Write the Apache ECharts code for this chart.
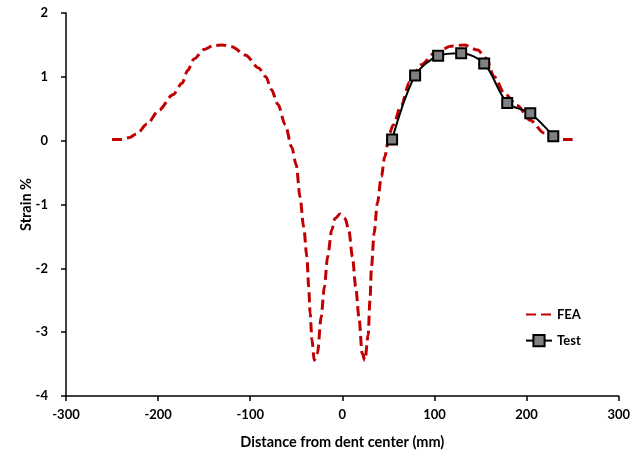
<!DOCTYPE html>
<html>
<head>
<meta charset="utf-8">
<script src="https://cdn.jsdelivr.net/npm/echarts@6/dist/echarts.min.js"></script>
<style>html,body{margin:0;padding:0;background:#fff}#c{width:633px;height:459px}</style>
</head>
<body>
<div id="c"></div>
<script>
const feaX = [-250,-240,-231,-223,-212,-199,-184,-174,-168,-161,-150,-140,-130,-120,-105,-91,-83,-77,-70,-62,-55,-50,-46,-42,-38.5,-36.5,-35,-33,-30.5,-27,-23,-19.5,-16,-11.5,-8,-2.5,3,7,11,14.5,18,21.5,24.5,28,30,31.6,34.5,38,42.4,46,51.4,55,64,73,85.6,100,118,132,147,156,165,176,190,204,219,230,240,250];
const feaY = [0.02,0.02,0.05,0.11,0.26,0.48,0.72,0.90,1.10,1.28,1.43,1.49,1.50,1.47,1.34,1.14,1.00,0.80,0.57,0.25,-0.10,-0.38,-0.88,-1.35,-1.82,-2.29,-2.70,-3.12,-3.44,-3.33,-2.76,-2.29,-1.82,-1.40,-1.22,-1.15,-1.22,-1.40,-1.82,-2.29,-2.76,-3.33,-3.44,-3.05,-2.50,-1.98,-1.45,-0.98,-0.56,-0.25,0.12,0.24,0.56,0.92,1.19,1.37,1.48,1.50,1.42,1.29,1.00,0.74,0.55,0.32,0.12,0.04,0.02,0.02];
const testX = [54,79,104,129,154,179,204,229];
const testY = [0.02,1.02,1.33,1.37,1.21,0.59,0.43,0.07];
const xTicks = [-300,-200,-100,0,100,200,300];
const yTicks = [-4,-3,-2,-1,0,1,2];

const font = 'Lato, "Open Sans", sans-serif';
const chart = echarts.init(document.getElementById('c'));
chart.setOption({
  animation: false,
  backgroundColor: '#fff',
  grid: {left: 66, right: 13, top: 13, bottom: 63},
  legend: {
    orient: 'vertical', left: 520, top: 303, itemWidth: 26, itemHeight: 14, itemGap: 13,
    textStyle: {fontFamily: font, fontWeight: 'bold', fontSize: 13, color: '#000'},
    data: [{name: 'FEA', itemStyle: {opacity: 0}}, {name: 'Test'}]
  },
  xAxis: {
    type: 'value', min: xTicks[0], max: xTicks[xTicks.length-1], interval: 100,
    name: 'Distance from dent center (mm)', nameLocation: 'middle', nameGap: 39,
    nameMoveOverlap: false,
    nameTextStyle: {fontFamily: font, fontWeight: 'bold', fontSize: 14.5, color: '#000'},
    axisLine: {onZero: false, lineStyle: {color: '#000', width: 1.5}},
    axisTick: {show: true, inside: false, length: 5, lineStyle: {color: '#000', width: 1.5}},
    axisLabel: {fontFamily: font, fontWeight: 'bold', fontSize: 13, color: '#000', margin: 12},
    splitLine: {show: false}
  },
  yAxis: {
    type: 'value', min: yTicks[0], max: yTicks[yTicks.length-1], interval: 1,
    name: 'Strain %', nameLocation: 'middle', nameGap: 32,
    nameMoveOverlap: false,
    nameTextStyle: {fontFamily: font, fontWeight: 'bold', fontSize: 14.5, color: '#000'},
    axisLine: {show: true, onZero: false, lineStyle: {color: '#000', width: 1.5}},
    axisTick: {show: true, inside: false, length: 5, lineStyle: {color: '#000', width: 1.5}},
    axisLabel: {fontFamily: font, fontWeight: 'bold', fontSize: 13, color: '#000', margin: 18},
    splitLine: {show: false}
  },
  series: [
    {
      name: 'FEA', type: 'line', showSymbol: false, symbol: 'none',
      smooth: 0.3, smoothMonotone: 'x',
      data: feaX.map((x, i) => [x, feaY[i]]),
      lineStyle: {color: '#C00000', width: 3, type: [10, 5]},
      itemStyle: {color: '#C00000'},
      z: 2
    },
    {
      name: 'Test', type: 'line', symbol: 'rect', symbolSize: 10,
      smooth: 0.3,
      data: testX.map((x, i) => [x, testY[i]]),
      lineStyle: {color: '#000', width: 2},
      itemStyle: {color: '#808080', borderColor: '#000', borderWidth: 2},
      z: 3
    }
  ]
});
</script>
</body>
</html>
